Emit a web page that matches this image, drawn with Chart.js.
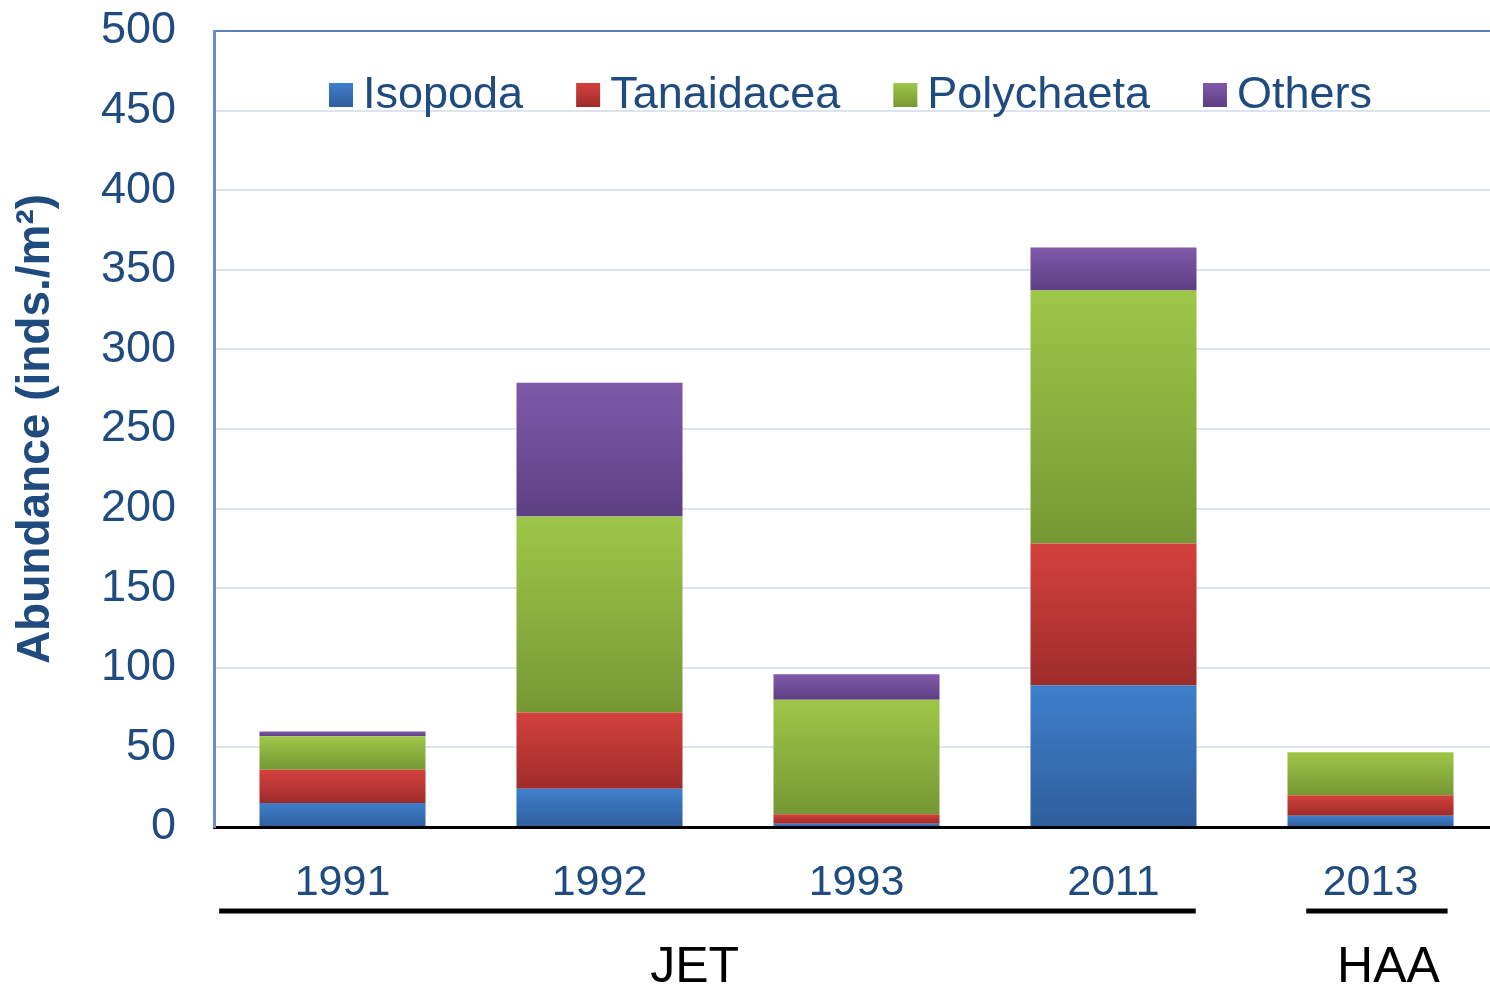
<!DOCTYPE html>
<html>
<head>
<meta charset="utf-8">
<script src="https://cdn.jsdelivr.net/npm/chart.js@4.4.1/dist/chart.umd.min.js"></script>
<style>
html,body{margin:0;padding:0;background:#fff;overflow:hidden;width:1490px;height:993px;}
#wrap{position:relative;width:1490px;height:993px;overflow:hidden;}
#c{position:absolute;left:0;top:-34px;}
</style>
</head>
<body>
<div id="wrap"><canvas id="c" width="1499" height="1027"></canvas></div>
<script>
const categories = ['1991', '1992', '1993', '2011', '2013'];
const isopoda    = [15, 24, 2, 89, 7];
const tanaidacea = [21, 48, 6, 89, 13];
const polychaeta = [21, 123, 72, 159, 27];
const others     = [3, 84, 16, 27, 0];
const yTicks = [0, 50, 100, 150, 200, 250, 300, 350, 400, 450, 500];
const groups = [
  { label: 'JET', from: 0, to: 3 },
  { label: 'HAA', from: 4, to: 4 }
];

const seriesList = [
  { label: 'Isopoda',    data: isopoda,    top: '#3f7fcc', bottom: '#2f5e9c', mid: '#3a73bd' },
  { label: 'Tanaidacea', data: tanaidacea, top: '#d4413d', bottom: '#9e2c2a', mid: '#c43a36' },
  { label: 'Polychaeta', data: polychaeta, top: '#9ec748', bottom: '#769834', mid: '#8ab33f' },
  { label: 'Others',     data: others,     top: '#8059aa', bottom: '#5d3f83', mid: '#7050a0' }
];

const textBlue = '#1f4b7f';
const FONT = '"Liberation Sans", Arial, sans-serif';

function gradFor(si) {
  return function(ctx) {
    const chart = ctx.chart;
    const y = chart.scales && chart.scales.y;
    const s = seriesList[si];
    if (!y || ctx.dataIndex === undefined || y.top === undefined) return s.mid;
    let start = 0;
    for (let k = 0; k < si; k++) start += seriesList[k].data[ctx.dataIndex];
    const end = start + s.data[ctx.dataIndex];
    const y0 = y.getPixelForValue(start), y1 = y.getPixelForValue(end);
    if (!isFinite(y0) || !isFinite(y1) || y0 === y1) return s.mid;
    const g = chart.ctx.createLinearGradient(0, y1, 0, y0);
    g.addColorStop(0, s.top);
    g.addColorStop(1, s.bottom);
    return g;
  };
}

const legendPlugin = {
  id: 'insideLegend',
  afterDatasetsDraw(chart) {
    const ctx = chart.ctx;
    const area = chart.chartArea;
    ctx.save();
    ctx.font = '45px ' + FONT;
    ctx.textBaseline = 'middle';
    ctx.textAlign = 'left';
    const box = 24, gapText = 10, gapItem = 53;
    const items = chart.data.datasets.map(d => ({ text: d.label, color: d.legendTop, color2: d.legendBottom, w: ctx.measureText(d.label).width }));
    let total = 0;
    items.forEach((it, i) => { total += box + gapText + it.w + (i ? gapItem : 0); });
    let x = (area.left + area.right) / 2 - 6 - total / 2;
    const cy = area.top + 64;
    items.forEach(it => {
      const g = ctx.createLinearGradient(0, cy - box / 2, 0, cy + box / 2);
      g.addColorStop(0, it.color); g.addColorStop(1, it.color2);
      ctx.fillStyle = g;
      ctx.fillRect(x, cy - box / 2, box, box);
      ctx.fillStyle = textBlue;
      ctx.fillText(it.text, x + box + gapText, cy + 1);
      x += box + gapText + it.w + gapItem;
    });
    ctx.restore();
  }
};

const groupPlugin = {
  id: 'groups',
  afterDraw(chart) {
    const x = chart.scales.x;
    const ctx = chart.ctx;
    const step = x.getPixelForValue(1) - x.getPixelForValue(0);
    ctx.save();
    ctx.strokeStyle = '#000';
    ctx.lineWidth = 5;
    ctx.fillStyle = '#000';
    ctx.font = '50px ' + FONT;
    ctx.textAlign = 'center';
    ctx.textBaseline = 'middle';
    const lineY = x.top + 84, textY = x.top + 141;
    groups.forEach(g => {
      let l, r, cx;
      if (g.from === g.to) {
        const c = x.getPixelForValue(g.from);
        l = c - 0.25 * step; r = c + 0.30 * step; cx = c + 18;
      } else {
        l = x.getPixelForValue(g.from) - 0.48 * step;
        r = x.getPixelForValue(g.to) + 0.32 * step;
        cx = x.getPixelForValue(g.from) + 1.37 * step;
      }
      ctx.beginPath();
      ctx.moveTo(l, lineY); ctx.lineTo(r, lineY);
      ctx.stroke();
      ctx.fillText(g.label, cx, textY);
    });
    ctx.restore();
  }
};

new Chart(document.getElementById('c'), {
  type: 'bar',
  data: {
    labels: categories,
    datasets: seriesList.map((s, i) => ({
      label: s.label,
      data: s.data,
      backgroundColor: gradFor(i),
      borderWidth: 0,
      barPercentage: 1,
      categoryPercentage: 0.646,
      legendTop: s.top,
      legendBottom: s.bottom
    }))
  },
  options: {
    responsive: false,
    animation: false,
    layout: { padding: { top: 28, left: 0, right: 0, bottom: 0 } },
    plugins: {
      tooltip: { enabled: false },
      legend: { display: false }
    },
    scales: {
      x: {
        stacked: true,
        grid: { display: false, drawTicks: false },
        border: { display: true, color: '#000', width: 3 },
        ticks: {
          color: textBlue,
          padding: 30,
          font: { family: FONT, size: 43 }
        },
        afterFit(scale) { scale.height = 166; }
      },
      y: {
        stacked: true,
        min: 0,
        max: 500,
        afterBuildTicks(scale) { scale.ticks = yTicks.map(v => ({ value: v })); },
        grid: {
          drawTicks: false,
          lineWidth: 2,
          color(ctx) { return ctx.tick && ctx.tick.value === 500 ? '#5a80bf' : '#dce4ef'; }
        },
        border: { display: true, color: '#6a8dc6', width: 3 },
        ticks: {
          color: textBlue,
          padding: 38,
          font: { family: FONT, size: 45 }
        },
        title: {
          display: true,
          text: 'Abundance (inds./m²)',
          color: textBlue,
          padding: { top: 9, bottom: 0 },
          font: { family: FONT, size: 46, weight: 'bold' }
        },
        afterFit(scale) { scale.width = 214; }
      }
    }
  },
  plugins: [legendPlugin, groupPlugin]
});
</script>
</body>
</html>
